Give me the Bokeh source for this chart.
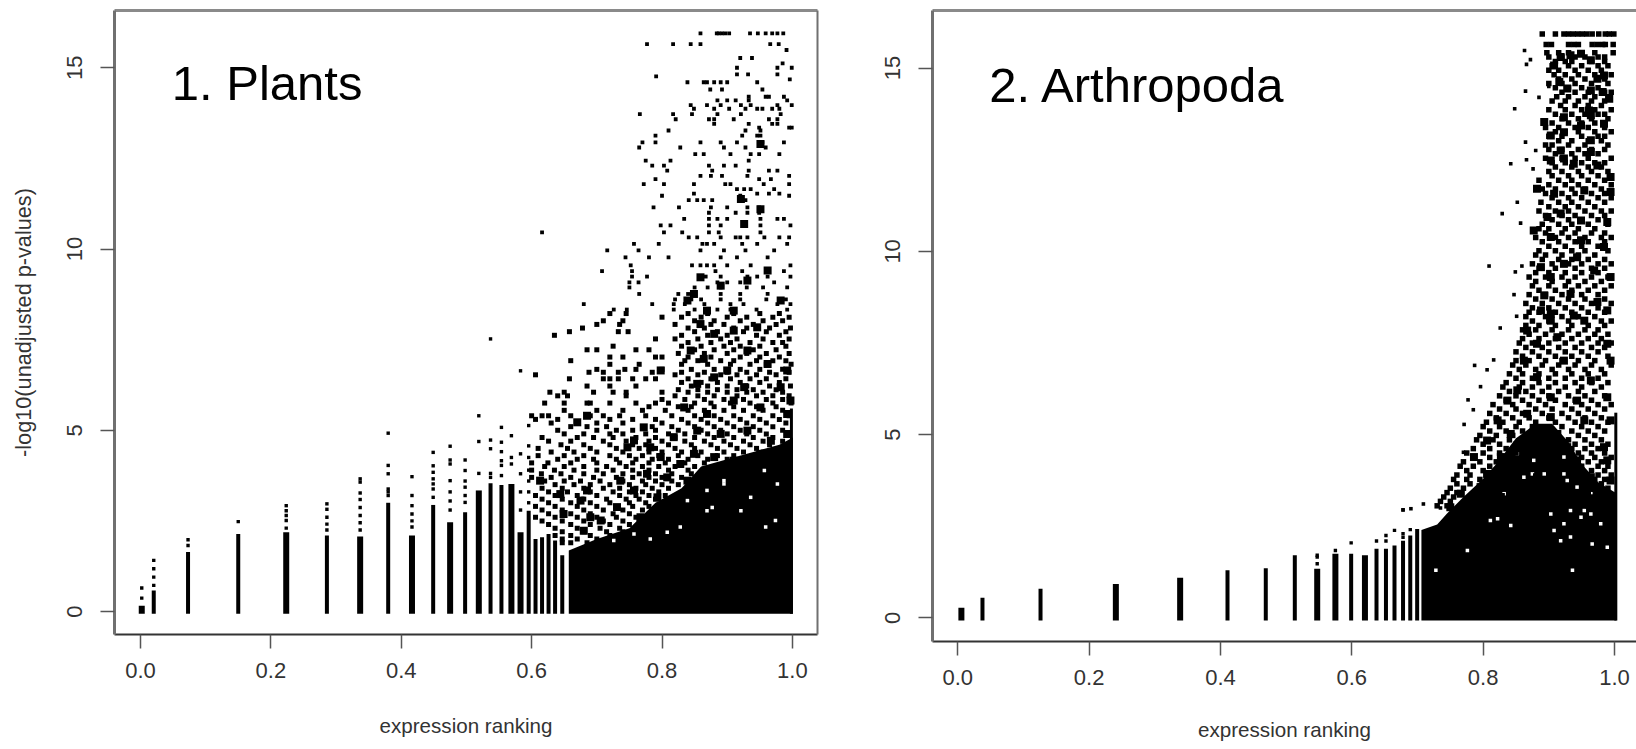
from bokeh.plotting import figure
from bokeh.layouts import row
from bokeh.models import FixedTicker, LinearAxis, Range1d
from bokeh.core.properties import value
from bokeh.embed import file_html
from bokeh.resources import INLINE

x_ticks = [0.0, 0.2, 0.4, 0.6, 0.8, 1.0]
x_tick_labels = ["0.0", "0.2", "0.4", "0.6", "0.8", "1.0"]
y_ticks = [0, 5, 10, 15]
x_title = "expression ranking"
y_title = "-log10(unadjusted p-values)"

# ---------- Panel 1: Plants ----------
p1_thin_x = [.0204, .073, .150, .286, .380, .449, .498, .537, .5537, .5955, .606, .616, .626, .636, .647]
p1_thin_top = [.58, 1.64, 2.14, 2.1, 3.0, 2.94, 2.74, 3.54, 3.49, 2.78, 2.0, 2.05, 2.14, 1.96, 1.55]
p1_thick_x = [.002, .2236, .337, .4165, .475, .519, .569, .583]
p1_thick_top = [.16, 2.19, 2.07, 2.1, 2.46, 3.34, 3.52, 2.19]
p1_col_dot_x = [.002, .002, .0204, .0204, .0204, .0204, .073, .073, .15, .2236, .2236, .2236, .2236, .2236, .286, .286, .286, .286,
                .286, .337, .337, .337, .337, .337, .337, .337, .337, .38, .38, .38, .38, .38, .38, .4165, .4165, .4165, .4165,
                .4165, .4165, .449, .449, .449, .449, .449, .449, .449, .475, .475, .475, .475, .475, .475, .475, .498, .498,
                .498, .498, .498, .498, .519, .519, .519, .537, .537, .537, .537, .537, .5537, .5537, .5537, .5537, .5537, .5537,
                .569, .569, .569, .583, .583, .583, .583, .583, .5955, .5955, .5955, .5955, .5955, .5955, .5955]
p1_col_dot_y = [.37, .65, .72, .95, 1.18, 1.41, 1.82, 1.98, 2.48, 2.3, 2.51, 2.65, 2.78, 2.92, 2.25, 2.41, 2.6, 2.82,
                2.97, 2.25, 2.45, 2.65, 2.87, 3.09, 3.27, 3.57, 3.66, 3.2, 3.38, 3.3, 3.8, 4.03, 4.92, 2.33, 2.5, 2.69, 2.92,
                3.2, 3.72, 3.15, 3.38, 3.52, 3.66, 3.84, 4.02, 4.39, 2.8, 3.05, 3.3, 3.61, 4.07, 4.18, 4.56, 3.01, 3.43,
                3.6, 3.89, 4.18, 3.2, 3.81, 4.69, 5.4, 3.81, 4.49, 4.73, 7.52, 3.7, 3.75, 4.03, 4.16, 4.41, 4.67, 5.08,
                4.07, 4.25, 4.85, 2.8, 3.3, 3.8, 4.35, 6.64, 3.0, 3.3, 3.6, 3.9, 4.25, 4.57, 5.13]
p1_mass_x = [.657, .70, .75, .79, .83, .86, .90, .94, .98, 1.0008]
p1_mass_top = [1.68, 2.0, 2.3, 3.0, 3.4, 4.0, 4.2, 4.4, 4.6, 4.8]
p1_edge_x = [.9985]
p1_edge_top = [5.6]
p1_gap_x = [.828, .869, .877, .921, .959, .974, .895, .936, .869, .957, .977, .849, .757, .726, .782, .808, .839, .895]
p1_gap_y = [2.33, 2.78, 2.87, 2.78, 2.33, 2.51, 3.52, 3.15, 3.34, 3.89, 3.52, 4.07, 2.14, 1.96, 2.0, 2.19, 3.06, 3.61]
p1_clump_x = [.859, .88, .91, .946, .844, .864, .90, .931, .962, .992, .88, .926, .854, .982, .997, .834, .869, .91, .951, .992,
              .798, .772, .818, .854, .89, .931, .967, .992, .782, .798, .828, .849, .88, .91, .951, .987, .757, .747, .67, .685,
              .777, .808, .839, .869, .905, .941, .982, .757, .793, .823, .731, .706, .767, .675, .69, .68, .649, .613, .736, .685, .644,
              .89, .859, .91, .962, .926, .921, .951, .951, .849, .931, .982, .839, .869]
p1_clump_y = [7.93, 7.66, 7.75, 7.84, 7.2, 6.97, 6.65, 7.2, 6.83, 6.65, 6.46, 6.19, 6.28, 6.19, 5.82, 5.63, 5.45, 5.82, 5.63, 5.45,
              6.65, 5.08, 4.81, 4.99, 4.9, 4.99, 4.71, 4.9, 4.53, 4.26, 4.07, 4.35, 4.26, 4.16, 4.35, 4.26, 4.72, 4.53, 5.22, 5.4,
              3.8, 3.7, 3.61, 3.89, 3.7, 3.61, 3.8, 3.34, 3.15, 2.97, 2.88, 2.51, 2.6, 3.06, 2.6, 2.23, 2.69, 3.61, 3.61, 3.34, 3.24,
              8.99, 9.22, 8.3, 9.41, 10.69, 11.38, 11.1, 12.9, 8.76, 9.13, 8.58, 8.58, 8.3]
p1_sparse_levels = [15.95, 15.65, 15.49, 15.27, 15.12, 15.0, 14.82, 14.76, 14.68, 14.6, 14.4, 14.2, 14.1, 13.97, 13.87, 13.72, 13.58,
                    13.45, 13.35, 13.27, 13.13, 12.94, 12.8, 12.62, 12.44, 12.3, 12.16, 12.02, 11.93, 11.79, 11.65, 11.53, 11.47,
                    11.35, 11.15, 11.0, 10.83, 10.65, 10.46, 10.32, 10.14, 9.96, 9.77, 9.55, 9.39, 9.24, 9.08, 8.94, 8.76, 8.61, 8.48, 8.33]
p1_sparse_xs = [
    [.859, .884, .887, .892, .897, .903, .935, .947, .959, .969, .977, .986],
    [.777, .817, .844, .859, .966, .979], [.991], [.92, .938], [.985], [.915, .977, .999], [.932, .915, .977], [.791], [.996],
    [.839, .864, .869, .88, .89, .90, .946], [.874, .892, .954], [.933, .959, .964, .987], [.885, .90, .913, .933, .992],
    [.844, .869, .89, .921, .936, .977, .999], [.849, .88, .903, .928, .946, .954, .969, .98], [.766, .817, .846, .885, .921, .982],
    [.821, .872, .88, .91, .964, .977], [.88, .933, .969, .977], [.949, .995, .999], [.81, .928, .951], [.79, .923, .946, .951],
    [.79, .77, .859, .89, .915, .954, .987], [.828, .765, .895, .928, .959], [.851, .864, .936, .949, .98, .905], [.775, .813, .933],
    [.872, .785, .803, .895, .913], [.808, .877, .977, .964, .933], [.859, .875, .931, .892, .995], [.79, .949, .967],
    [.772, .803, .849, .897, .905, .956, .995], [.915, .926, .936, .972], [.849, .946, .964, .98], [.80, .92, .995],
    [.841, .854, .864, .877, .92, .928], [.787, .826, .875, .90, .931, .949], [.872, .913, .931, .949],
    [.834, .872, .885, .90, .951, .977, .987], [.798, .813, .872, .89, .928, .951, .997], [.616, .803, .831, .951, .872, .887],
    [.841, .854, .89, .913, .92, .931, .957, .98, .995], [.757, .795, .862, .869, .88, .923, .946, .992],
    [.716, .764, .859, .895, .928, .972], [.744, .78, .81, .89, .915, .962], [.752, .846, .859, .869, .88, .90, .936, .997],
    [.708, .754, .882, .923, .962, .987], [.754, .777, .859, .867, .89, .931, .946, .962, .997], [.75, .764, .885, .90, .92, .972],
    [.75, .85, .87, .89, .93, .955, .992], [.765, .825, .84, .89, .92, .962], [.82, .845, .86, .89, .92, .96, .99],
    [.68, .785, .818, .835, .865, .905, .925, .977, .997], [.726, .746, .818, .85, .885, .905, .945, .992]]
p1_band_levels = [8.22, 8.12, 8.02, 7.92, 7.82, 7.72, 7.62, 7.52, 7.42, 7.32, 7.22, 7.12, 7.02, 6.92, 6.82, 6.68, 6.6, 6.53, 6.42, 6.32, 6.22,
                  6.12, 6.05, 5.95, 5.85, 5.75, 5.65, 5.55, 5.4, 5.3, 5.2, 5.1, 5.0, 4.9, 4.8, 4.7, 4.6, 4.5, 4.4, 4.3, 4.2, 4.1, 4.0,
                  3.9, 3.8, 3.7, 3.6, 3.5, 3.4, 3.3, 3.2, 3.1, 3.0, 2.9, 2.8, 2.7, 2.6, 2.5, 2.4, 2.3, 2.2, 2.1, 2.0, 1.9]
p1_band_xs = [
    [.72, .745, .84, .87, .91, .95, .98], [.80, .83, .86, .90, .93, .97, .995], [.71, .74, .85, .88, .92, .955, .985],
    [.70, .735, .82, .875, .895, .94, .975], [.678, .84, .865, .91, .93, .965, .997], [.658, .733, .748, .85, .885, .925, .96, .99],
    [.635, .83, .87, .90, .945, .98], [.79, .82, .855, .89, .915, .955, .995], [.84, .875, .905, .935, .97, .985],
    [.725, .83, .86, .895, .92, .95, .99], [.685, .70, .76, .78, .85, .88, .91, .94, .975], [.825, .865, .90, .93, .96, .995],
    [.72, .74, .79, .80, .84, .875, .92, .95, .98], [.66, .835, .855, .89, .91, .945, .97, .99], [.72, .765, .83, .87, .905, .935, .96, .998],
    [.70, .743, .76, .80, .845, .88, .92, .95, .985], [.688, .71, .733, .785, .83, .865, .90, .93, .965, .995],
    [.606, .82, .855, .89, .915, .945, .975], [.658, .71, .72, .733, .755, .775, .79, .84, .875, .905, .935, .96, .99],
    [.83, .86, .885, .92, .95, .98], [.685, .72, .76, .845, .87, .90, .93, .965, .997], [.825, .855, .885, .915, .94, .975],
    [.628, .65, .695, .725, .745, .80, .84, .87, .90, .93, .955, .985], [.64, .655, .745, .82, .855, .88, .915, .945, .97, .995],
    [.80, .835, .865, .895, .925, .96, .985], [.62, .65, .685, .69, .72, .76, .79, .81, .85, .875, .905, .935, .97, .998],
    [.78, .825, .845, .88, .91, .945, .975], [.65, .70, .74, .77, .805, .84, .865, .895, .925, .955, .985],
    [.60, .616, .626, .66, .69, .71, .735, .775, .815, .85, .88, .91, .94, .97, .995], [.606, .64, .72, .755, .79, .83, .86, .89, .92, .95, .98],
    [.63, .67, .70, .74, .80, .84, .87, .90, .93, .96, .99], [.66, .685, .715, .77, .785, .815, .85, .88, .91, .94, .97],
    [.64, .70, .73, .755, .79, .825, .86, .89, .92, .95, .985], [.65, .68, .72, .74, .775, .81, .835, .87, .90, .93, .96, .995],
    [.616, .67, .695, .725, .76, .79, .82, .85, .88, .91, .94, .97], [.626, .66, .71, .745, .78, .80, .835, .865, .895, .925, .955, .985],
    [.645, .68, .72, .755, .775, .81, .845, .875, .905, .935, .965], [.61, .655, .69, .73, .765, .79, .82, .85, .885, .915, .945, .98],
    [.63, .665, .70, .74, .78, .80, .83, .86, .895, .925, .955], [.61, .65, .68, .72, .75, .77, .795, .825, .855, .885, .91],
    [.64, .67, .695, .73, .76, .785, .81, .84, .87, .90, .935, .97], [.60, .625, .66, .70, .735, .755, .78, .805, .835, .865, .915],
    [.62, .65, .68, .715, .745, .77, .795, .82, .85, .88], [.60, .635, .665, .70, .725, .755, .78, .81, .84, .87],
    [.615, .645, .68, .71, .74, .765, .79, .815, .845], [.60, .63, .66, .695, .73, .755, .78, .80, .83],
    [.62, .65, .675, .705, .74, .77, .79, .815, .84], [.636, .665, .69, .72, .75, .775, .80, .825], [.616, .647, .68, .71, .735, .76, .785, .81],
    [.626, .655, .69, .725, .75, .77, .795], [.606, .636, .67, .70, .735, .76, .78, .805], [.616, .647, .68, .715, .745, .765, .79],
    [.626, .66, .69, .72, .75, .775], [.606, .636, .67, .70, .73, .755, .78], [.616, .647, .68, .71, .74, .77], [.626, .66, .69, .725, .75],
    [.606, .636, .67, .70, .73, .76], [.616, .647, .68, .71, .74, .765], [.626, .66, .69, .72, .75], [.636, .67, .705, .735],
    [.647, .68, .715, .74], [.636, .66, .69, .72], [.647, .67, .70], [.647, .66, .685]]

# ---------- Panel 2: Arthropoda ----------
p2_thin_x = [.0376, .126, .4107, .469, .5132, .599, .6376, .652, .665, .678, .689, .6995]
p2_thin_top = [.55, .80, 1.3, 1.36, 1.71, 1.75, 1.89, 1.89, 1.98, 2.11, 2.25, 2.43]
p2_thick_x = [.0055, .2407, .3386, .5473, .575, .62]
p2_thick_top = [.28, .93, 1.1, 1.34, 1.75, 1.71]
p2_col_dot_x = [.5473, .5473, .5473, .575, .599, .6376, .652, .652, .665, .678, .678, .678, .689]
p2_col_dot_y = [1.48, 1.66, 1.71, 1.84, 2.05, 2.1, 2.25, 2.1, 2.39, 2.2, 2.3, 2.95, 2.41]
p2_mass_x = [.706, .73, .745, .77, .80, .82, .85, .88, .905, .93, .95, .975, 1.003]
p2_mass_top = [2.4, 2.55, 2.85, 3.3, 3.8, 4.2, 4.9, 5.3, 5.3, 4.8, 4.2, 3.7, 3.4]
p2_edge_x = [1.002]
p2_edge_top = [5.6]
p2_gap_x = [.908, .918, .933, .966, .989, .936, .728, .776, .811, .822, .842, .903, .923, .949, .964, .979, .832, .862, .875, .893, .923, .943,
            .964, .979, .933, .954, .852, .877, .923, .954, .989, .928]
p2_gap_y = [2.39, 2.11, 2.21, 2.02, 1.93, 1.3, 1.3, 1.84, 2.66, 2.71, 2.52, 2.84, 2.57, 2.75, 2.84, 2.57, 3.39, 3.84, 3.93, 3.93, 3.93, 3.57,
            3.39, 3.93, 2.93, 2.93, 4.48, 4.3, 4.39, 4.2, 3.66, 3.75]
p2_out_x = [.863, .872, .866, .8645, .885, .848, .90, .8645, .88, .866, .842, .876, .852, .829, .857, .809, .849, .859, .847, .851,
            .826, .816, .787, .806, .796, .777, .785, .771, .77, .735, .735, .709, .678, .69]
p2_out_y = [15.48, 15.23, 15.1, 14.37, 14.2, 13.89, 14.5, 12.98, 12.75, 12.5, 12.39, 12.25, 11.34, 11.03, 10.77, 9.6, 9.44, 9.6, 8.82, 8.23,
            7.91, 7.04, 6.89, 6.77, 6.31, 5.95, 5.68, 5.28, 4.52, 3.2, 3.0, 3.11, 2.95, 2.98]
p2_clump_x = [.918, .933, .949, .908, .964, .984, .974, .916, .928, .964, .982, .992, .961, .964, .923, .893, .949, .984, .903, .923, .964,
              .918, .923, .903, .938, .964, .974, .994, .908, .882, .954, .994, .918, .898, .949, .989, .903, .949, .877, .984, .943, .888,
              .923, .969, .903, .994, .893, .933, .974, .903, .938, .989, .888, .903, .867, .882, .913, .954, .989, .862, .882, .923, .964,
              .994, .852, .903, .943, .989, .837, .867, .903, .954, .994, .822, .842, .872, .913, .928, .984, .806, .827, .867, .903, .943,
              .989, .786, .806, .842, .882, .913, .964, .994, .766, .796, .827, .882, .994, .75]
p2_clump_y = [15.3, 15.35, 15.39, 15.07, 15.21, 14.8, 14.71, 14.62, 14.44, 14.39, 14.35, 14.16, 13.84, 13.71, 13.66, 13.53, 13.43, 13.48, 13.16, 13.25, 13.03,
              12.75, 12.53, 12.48, 12.39, 12.71, 12.34, 12.03, 11.57, 11.71, 11.66, 11.62, 11.03, 10.94, 10.84, 10.8, 10.39, 10.3, 10.57, 10.12, 9.84, 9.57,
              9.66, 9.48, 9.3, 9.3, 8.8, 8.84, 8.62, 8.3, 8.25, 8.39, 8.39, 8.11, 7.84, 7.48, 7.66, 8.11, 7.48, 7.02, 6.57, 7.02, 6.48,
              7.02, 6.21, 6.02, 5.93, 6.02, 5.93, 5.57, 5.48, 5.39, 5.39, 5.39, 5.02, 4.75, 5.02, 4.66, 4.66, 4.84, 4.39, 4.11, 4.11, 4.3,
              4.3, 4.39, 3.93, 3.75, 3.84, 3.57, 3.84, 3.75, 3.39, 3.57, 3.3, 3.21, 3.11, 3.02]
p2_band_levels = [15.93, 15.64, 15.42, 15.3, 15.18, 15.06, 14.94, 14.82, 14.7, 14.58, 14.46, 14.34, 14.22, 14.1, 13.98, 13.86, 13.74, 13.62,
                  13.5, 13.38, 13.26, 13.14, 13.02, 12.9, 12.78, 12.66, 12.54, 12.42, 12.3, 12.18, 12.06, 11.94, 11.82, 11.7, 11.58,
                  11.46, 11.34, 11.22, 11.1, 10.98, 10.86, 10.74, 10.62, 10.5, 10.38, 10.26, 10.14, 10.02, 9.9, 9.78, 9.66, 9.54,
                  9.42, 9.3, 9.18, 9.06, 8.94, 8.82, 8.7, 8.58, 8.46, 8.34, 8.22, 8.1, 7.98, 7.86, 7.74, 7.62, 7.5, 7.38, 7.26, 7.14,
                  7.02, 6.9, 6.78, 6.66, 6.54, 6.42, 6.3, 6.18, 6.06, 5.94, 5.82, 5.7, 5.58, 5.46, 5.34, 5.22, 5.1, 4.98, 4.86, 4.74,
                  4.62, 4.5, 4.38, 4.26, 4.14, 4.02, 3.9, 3.78, 3.66, 3.54, 3.42, 3.3, 3.18, 3.06, 2.94, 2.82]
p2_band_xs = [
    [.89, .91, .923, .93, .937, .944, .951, .958, .966, .976, .986, .992, .999], [.896, .904, .93, .938, .945, .966, .974, .982, .986, .998],
    [.897, .915, .93, .95, .97, .998], [.90, .92, .94, .955, .975, .985], [.91, .925, .935, .965, .985], [.905, .93, .95, .975, .99],
    [.90, .915, .94, .96, .98], [.908, .925, .945, .97, .995], [.915, .935, .955, .985], [.90, .92, .94, .965, .99], [.91, .93, .95, .975],
    [.92, .94, .96, .985, .995], [.912, .93, .955, .97, .99], [.905, .925, .945, .965, .985], [.918, .94, .96, .98],
    [.90, .925, .95, .97, .995], [.91, .935, .955, .975, .985], [.92, .945, .965, .99], [.905, .93, .95, .97], [.895, .915, .94, .96, .985],
    [.91, .925, .945, .97, .995], [.90, .92, .95, .975, .985], [.915, .935, .96, .98], [.895, .905, .93, .955, .99], [.90, .92, .945, .965, .985],
    [.91, .935, .955, .975], [.895, .92, .94, .96, .995], [.905, .925, .95, .97, .985], [.91, .935, .96, .98], [.90, .92, .945, .965, .99],
    [.905, .93, .95, .975], [.885, .915, .935, .96, .985], [.90, .925, .945, .97, .995], [.89, .91, .935, .955, .98],
    [.895, .92, .94, .965, .985], [.905, .93, .95, .975, .995], [.888, .915, .935, .96, .985], [.90, .925, .945, .97],
    [.885, .91, .93, .955, .98, .995], [.895, .92, .94, .965, .985], [.905, .93, .95, .975], [.89, .915, .935, .96, .99],
    [.885, .90, .925, .945, .97], [.895, .92, .94, .965, .985], [.88, .91, .93, .955, .98, .995], [.89, .915, .94, .96, .985],
    [.90, .925, .95, .975], [.885, .91, .935, .955, .99], [.88, .895, .92, .945, .97], [.89, .915, .935, .96, .985],
    [.875, .905, .93, .95, .975, .995], [.885, .91, .94, .965, .985], [.88, .90, .925, .95, .975], [.87, .895, .92, .94, .965, .99],
    [.88, .905, .93, .955, .98], [.875, .90, .925, .945, .97, .995], [.885, .91, .935, .96, .985], [.87, .895, .92, .95, .975],
    [.88, .905, .93, .955, .985], [.865, .89, .915, .94, .965, .995], [.875, .90, .925, .95, .975], [.87, .885, .91, .935, .96, .985],
    [.865, .895, .92, .945, .97], [.875, .90, .93, .955, .98, .995], [.865, .885, .91, .935, .96, .985], [.86, .88, .905, .93, .955, .975],
    [.87, .895, .92, .945, .97, .99], [.86, .885, .91, .935, .96, .98], [.855, .875, .90, .925, .95, .975, .995], [.865, .89, .915, .94, .965, .985],
    [.85, .875, .90, .925, .95, .975], [.86, .885, .91, .935, .96, .99], [.85, .87, .895, .92, .945, .97], [.845, .865, .89, .915, .94, .965, .995],
    [.855, .88, .905, .93, .955, .98], [.84, .86, .885, .91, .935, .96, .985], [.85, .875, .90, .925, .95, .975], [.835, .86, .885, .91, .94, .965, .99],
    [.83, .855, .875, .90, .925, .95, .98], [.84, .865, .89, .915, .945, .97], [.825, .85, .875, .90, .93, .955, .985], [.835, .86, .885, .91, .94, .965],
    [.815, .845, .87, .895, .925, .95, .975, .995], [.825, .85, .88, .905, .935, .96, .985], [.81, .835, .86, .89, .92, .945, .97],
    [.82, .845, .87, .90, .93, .955, .98], [.805, .83, .855, .88, .91, .94, .965, .99], [.80, .825, .85, .875, .92, .95, .975],
    [.81, .835, .86, .885, .935, .96, .985], [.795, .82, .845, .87, .945, .97], [.79, .815, .84, .86, .93, .955, .98], [.80, .825, .85, .94, .965, .99],
    [.785, .81, .835, .855, .935, .955, .975], [.775, .80, .825, .85, .945, .965, .985], [.785, .81, .835, .95, .97, .995], [.77, .795, .82, .84, .94, .96, .98],
    [.765, .785, .81, .83, .95, .975, .99], [.775, .80, .82, .945, .965, .985], [.76, .78, .805, .955, .975, .995], [.755, .775, .795, .95, .97, .985],
    [.76, .78, .96, .98], [.75, .77, .955, .975, .99], [.745, .76, .96, .985], [.74, .755, .965, .98], [.735, .75, .97, .99], [.73, .745, .96, .985]]


def flatten(levels, xs):
    fx, fy = [], []
    for y, row_x in zip(levels, xs):
        fx.extend(row_x)
        fy.extend([y] * len(row_x))
    return fx, fy


def panel(width, height, left, right, bottom, xr, yr, label_x, label_y, label, xlabel_standoff):
    p = figure(width=width, height=height, output_backend="svg", toolbar_location=None,
               x_range=Range1d(*xr), y_range=Range1d(*yr), frame_align=False,
               min_border_left=left, min_border_right=right, min_border_top=10, min_border_bottom=bottom,
               background_fill_color="white", border_fill_color="white", outline_line_color=None)
    p.grid.visible = False
    for ax in (p.xaxis[0], p.yaxis[0]):
        ax.major_tick_out = 14
        ax.major_tick_in = 0
        ax.minor_tick_line_color = None
        ax.major_tick_line_color = "#555555"
        ax.major_tick_line_width = 1.5
        ax.major_label_text_font = "Liberation Sans"
        ax.major_label_text_color = "#333333"
        ax.major_label_text_font_size = "22px"
        ax.axis_label_text_font = "Liberation Sans"
        ax.axis_label_text_font_style = "normal"
        ax.axis_label_text_color = "#333333"
    p.xaxis.ticker = FixedTicker(ticks=x_ticks)
    p.xaxis.major_label_overrides = dict(zip(x_ticks, x_tick_labels))
    p.xaxis.axis_line_color = "#333333"
    p.xaxis.axis_line_width = 2
    p.xaxis.major_label_standoff = 14
    p.xaxis.axis_label = x_title
    p.xaxis.axis_label_text_font_size = "20.6px"
    p.xaxis.axis_label_standoff = xlabel_standoff
    p.yaxis.ticker = FixedTicker(ticks=y_ticks)
    p.yaxis.major_label_orientation = "vertical"
    p.yaxis.axis_line_color = "#707070"
    p.yaxis.axis_line_width = 3
    p.yaxis.major_label_standoff = 18
    top = LinearAxis(ticker=FixedTicker(ticks=[]), axis_line_color="#8a8a8a", axis_line_width=3,
                     major_tick_line_color=None, minor_tick_line_color=None)
    p.add_layout(top, "above")
    p.text(x=[label_x], y=[label_y], text=[label], text_font=value("Liberation Sans"), text_font_size=value("49px"),
           text_color="black", text_baseline="alphabetic", text_align="left")
    return p


def marks(p, thin_x, thin_top, thick_x, thick_top, dot_x, dot_y, mass_x, mass_top, edge_x, edge_top, gap_x, gap_y, base):
    p.varea(x=mass_x, y1=[base] * len(mass_x), y2=mass_top, fill_color="black")
    p.scatter(x=gap_x, y=gap_y, marker="square", size=3.5, fill_color="white", line_color=None)
    p.segment(x0=thin_x, x1=thin_x, y0=[base] * len(thin_x), y1=thin_top, line_color="black", line_width=4)
    p.segment(x0=thick_x, x1=thick_x, y0=[base] * len(thick_x), y1=thick_top, line_color="black", line_width=6)
    p.segment(x0=edge_x, x1=edge_x, y0=[base], y1=edge_top, line_color="black", line_width=3)
    p.scatter(x=dot_x, y=dot_y, marker="square", size=3.4, fill_color="black", line_color=None)


p1 = panel(860, 749, 114, 43, 115, (-.0398, 1.0385), (-.634, 16.58), .048, 14.57, "1. Plants", 33)
p1.add_layout(LinearAxis(ticker=FixedTicker(ticks=[]), axis_line_color="#707070", axis_line_width=2,
                         major_tick_line_color=None, minor_tick_line_color=None), "right")
p1.yaxis[0].axis_label = y_title
p1.yaxis[0].axis_label_text_font_size = "21.7px"
p1.yaxis[0].axis_label_standoff = 29
marks(p1, p1_thin_x, p1_thin_top, p1_thick_x, p1_thick_top, p1_col_dot_x, p1_col_dot_y, p1_mass_x, p1_mass_top, p1_edge_x, p1_edge_top,
      p1_gap_x, p1_gap_y, -.06)
sx, sy = flatten(p1_sparse_levels, p1_sparse_xs)
p1.scatter(x=sx, y=sy, marker="square", size=3.8, fill_color="black", line_color=None)
bx, by = flatten(p1_band_levels, p1_band_xs)
p1.scatter(x=bx, y=by, marker="square", size=5, fill_color="black", line_color=None)
p1.scatter(x=p1_clump_x, y=p1_clump_y, marker="square", size=8, fill_color="black", line_color=None)

p2 = panel(776, 749, 72, 0, 108, (-.0385, 1.0335), (-.641, 16.57), .048, 14.54, "2. Arthropoda", 30)
marks(p2, p2_thin_x, p2_thin_top, p2_thick_x, p2_thick_top, p2_col_dot_x, p2_col_dot_y, p2_mass_x, p2_mass_top, p2_edge_x, p2_edge_top,
      p2_gap_x, p2_gap_y, -.07)
p2.scatter(x=p2_out_x, y=p2_out_y, marker="square", size=3.6, fill_color="black", line_color=None)
bx2, by2 = flatten(p2_band_levels, p2_band_xs)
p2.scatter(x=bx2, y=by2, marker="square", size=5.5, fill_color="black", line_color=None)
p2.scatter(x=p2_clump_x, y=p2_clump_y, marker="square", size=8, fill_color="black", line_color=None)

open("out.html", "w").write(file_html(row(p1, p2), INLINE))
